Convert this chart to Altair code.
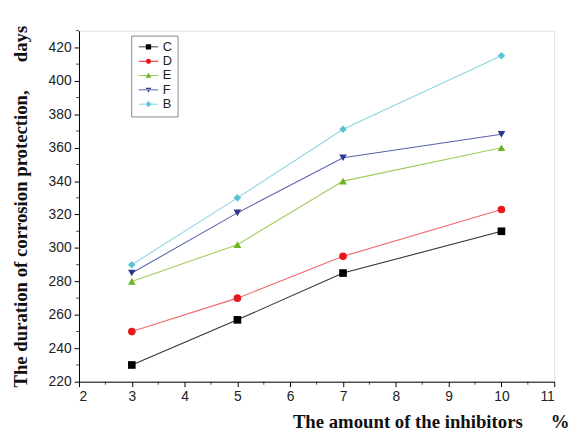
import altair as alt
import pandas as pd

amounts = [3, 5, 7, 10]
series_names = ["C", "D", "E", "F", "B"]
C = [230, 257, 285, 310]
D = [250, 270, 295, 323]
E = [280, 302, 340, 360]
F = [285, 321, 354, 368]
B = [290, 330, 371, 415]
values = {"C": C, "D": D, "E": E, "F": F, "B": B}

marker_colors = ["#000000", "#e8191e", "#6db51e", "#2b3a90", "#5cc3d6"]
line_colors = ["#333333", "#ef6a6e", "#9fcc5a", "#5a64a8", "#8fd3e2"]
shapes = ["square", "circle", "triangle-up", "triangle-down", "diamond"]

# legend symbols: a short line segment with the marker on it
seg = "M-3.7,-0.15H3.7V0.15H-3.7Z"
legend_shapes = [
    seg + "M-1,-1H1V1H-1Z",
    seg + "M1,0A1,1 0 1,1 -1,0A1,1 0 1,1 1,0Z",
    seg + "M0,-1.1L1.1,0.8H-1.1Z",
    seg + "M0,1.1L1.1,-0.8H-1.1Z",
    seg + "M0,-1.2L1.1,0L0,1.2L-1.1,0Z",
]

x_ticks = list(range(2, 12))
x_minor = [i + 0.5 for i in range(2, 11)]
y_ticks = list(range(220, 421, 20))
y_minor = list(range(230, 431, 20))

rows = []
for s in series_names:
    for a, v in zip(amounts, values[s]):
        rows.append({"series": s, "amount": a, "days": v})
df = pd.DataFrame(rows)

xscale = alt.Scale(domain=[2, 11], nice=False, zero=False)
yscale = alt.Scale(domain=[220, 430], nice=False, zero=False)

label_font = "Liberation Sans"
title_font = "Liberation Serif"
NB = "\u00a0"

x_axis = alt.Axis(
    values=x_ticks, format="d", labelOverlap=False, grid=False, tickSize=5,
    domainColor="#000", tickColor="#000",
    labelFont=label_font, labelFontSize=14, labelColor="#222", labelPadding=3,
    title="The amount of the inhibitors" + NB * 6 + "%", titleFont=title_font,
    titleFontSize=19, titleFontWeight="bold", titleColor="#111",
    titleAnchor="end", titleAlign="right",
    titleX=497, titleY=46, titleBaseline="alphabetic",
)
y_axis = alt.Axis(
    values=y_ticks, format="d", labelOverlap=False, grid=False, tickSize=5,
    domainColor="#000", tickColor="#000",
    labelFont=label_font, labelFontSize=14, labelColor="#222", labelPadding=3,
    title="The duration of corrosion protection," + NB * 6 + "days",
    titleFont=title_font, titleFontSize=19, titleFontWeight="bold",
    titleColor="#111", titlePadding=18,
)

X = alt.X("amount:Q", scale=xscale, axis=x_axis)
Y = alt.Y("days:Q", scale=yscale, axis=y_axis)

lines = alt.Chart(df).mark_line(strokeWidth=1.1).encode(
    x=X, y=Y,
    detail="series:N",
    stroke=alt.Stroke("series:N", scale=alt.Scale(domain=series_names, range=line_colors),
                      legend=None),
)

points = alt.Chart(df).mark_point(filled=True, size=60, opacity=1).encode(
    x=X, y=Y,
    color=alt.Color("series:N", scale=alt.Scale(domain=series_names, range=marker_colors),
                    legend=None),
    shape=alt.Shape("series:N", scale=alt.Scale(domain=series_names, range=shapes),
                    legend=None),
)

legend_layer = alt.Chart(df.iloc[0:0]).mark_point(filled=True, opacity=1).encode(
    x=X, y=Y,
    color=alt.Color("series:N", scale=alt.Scale(domain=series_names, range=marker_colors),
                    sort=series_names,
                    legend=alt.Legend(title=None, orient="none", legendX=53, legendY=5,
                                      strokeColor="#888", padding=5, labelFont=label_font,
                                      labelFontSize=13, symbolSize=28, rowPadding=0.5,
                                      symbolOffset=6, labelOffset=8, labelColor="#222",
                                      symbolStrokeWidth=0)),
    shape=alt.Shape("series:N", scale=alt.Scale(domain=series_names, range=legend_shapes),
                    sort=series_names),
)

minor_x = alt.Chart(pd.DataFrame({"m": x_minor})).mark_tick(
    orient="vertical", color="#000", size=3, thickness=1
).encode(x=alt.X("m:Q", scale=xscale, axis=x_axis), y=alt.value(357.5))

minor_y = alt.Chart(pd.DataFrame({"m": y_minor})).mark_tick(
    orient="horizontal", color="#000", size=3, thickness=1
).encode(y=alt.Y("m:Q", scale=yscale, axis=y_axis), x=alt.value(-1.5))

chart = alt.layer(lines, points, legend_layer, minor_x, minor_y).resolve_scale(
    color="independent", stroke="independent", shape="independent"
).resolve_legend(
    color="independent", stroke="independent", shape="independent"
).properties(
    width=482, height=356,
    autosize=alt.AutoSizeParams(type="none"),
    padding={"left": 72, "top": 20, "right": 18, "bottom": 48},
).configure_view(stroke=None).configure(background="white")

chart.save("out.html", embed_options={"renderer": "svg", "actions": False})
